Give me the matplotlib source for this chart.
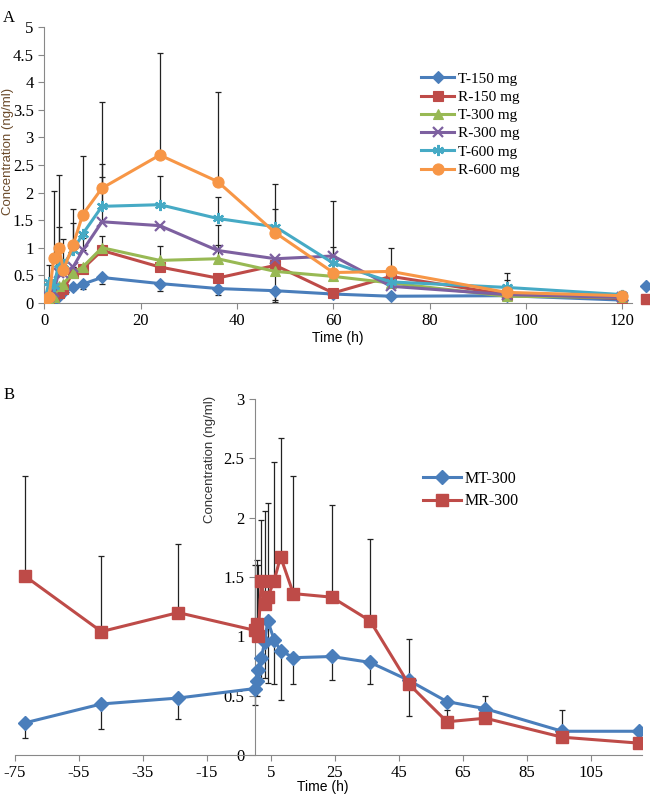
import numpy as np
import matplotlib.pyplot as plt

plt.rcParams['font.family'] = ['Liberation Serif', 'DejaVu Serif']
plt.rcParams['axes.unicode_minus'] = False

# ---- panel A data (single dose) ----
t_a = [0, 1, 2, 3, 4, 6, 8, 12, 24, 36, 48, 60, 72, 96, 120]
t150 = [0, 0.02, 0.05, 0.12, 0.2, 0.28, 0.34, 0.46, 0.35, 0.26, 0.22, 0.16, 0.12, 0.13, 0.05]
r150 = [0, 0.05, 0.12, 0.18, 0.25, 0.55, 0.62, 0.95, 0.65, 0.45, 0.68, 0.18, 0.48, 0.15, 0.08]
t300 = [0, 0.05, 0.1, 0.3, 0.35, 0.55, 0.65, 1.0, 0.77, 0.8, 0.57, 0.48, 0.36, 0.12, 0.1]
r300 = [0, 0.1, 0.2, 0.55, 0.55, 0.65, 0.95, 1.47, 1.4, 0.95, 0.8, 0.85, 0.3, 0.15, 0.1]
t600 = [0, 0.38, 0.3, 0.7, 0.7, 0.95, 1.25, 1.75, 1.78, 1.53, 1.38, 0.72, 0.38, 0.28, 0.15]
r600 = [0, 0.1, 0.82, 1.0, 0.6, 1.05, 1.6, 2.08, 2.68, 2.2, 1.27, 0.55, 0.57, 0.19, 0.13]

# error bars (lower, upper)
t150_lo = [0, 0, 0, 0, 0, 0.05, 0.08, 0.11, 0.13, 0.11, 0.2, 0, 0, 0, 0]
r150_lo = [0, 0, 0, 0, 0, 0, 0, 0, 0, 0, 0.63, 0, 0, 0, 0]
t300_hi = [0, 0, 0, 0, 0, 0, 0, 0.22, 0.26, 0.25, 0, 0, 0, 0, 0]
r300_hi = [0, 0, 0, 0.82, 0, 0, 0.22, 0.81, 0, 0.47, 0, 0, 0, 0, 0]
t600_hi = [0, 0.3, 0, 0, 0.45, 0.5, 0, 0.77, 0.52, 0.39, 0.32, 0.29, 0, 0.14, 0]
r600_hi = [0, 0, 1.2, 1.31, 0, 0.65, 1.06, 1.57, 1.85, 1.62, 0.88, 1.29, 0.43, 0.35, 0.08]
zeros_a = [0] * len(t_a)

# stray points at right edge of panel A
extra_t = [125, 125]
extra_y = [0.31, 0.07]

# ---- panel B data (multiple dose) ----
t_b = [-72, -48, -24, 0, 0.5, 1, 2, 3, 4, 6, 8, 12, 24, 36, 48, 60, 72, 96, 120]
mt300 = [0.27, 0.43, 0.48, 0.56, 0.62, 0.72, 0.82, 0.95, 1.13, 0.97, 0.88, 0.82, 0.83, 0.78, 0.63, 0.45, 0.39, 0.2, 0.2]
mr300 = [1.51, 1.04, 1.2, 1.05, 1.1, 1.0, 1.47, 1.27, 1.33, 1.47, 1.67, 1.36, 1.33, 1.13, 0.6, 0.28, 0.31, 0.15, 0.1]
mt_lo = [0.13, 0.21, 0.18, 0.14, 0.12, 0.1, 0.2, 0.3, 0.52, 0.37, 0.42, 0.22, 0.2, 0.18, 0.3, 0, 0, 0, 0]
mt_hi = [0, 0, 0, 0, 0, 0, 0, 0, 0, 0, 0, 0, 0, 0, 0, 0, 0.11, 0.18, 0]
mr_hi = [0.84, 0.64, 0.58, 0.55, 0.54, 0.6, 0.51, 0.79, 0.79, 1.0, 1.0, 0.99, 0.78, 0.69, 0.38, 0.1, 0, 0, 0]

blue = '#4a7ebb'
red = '#be4b48'
green = '#98b954'
purple = '#7d60a0'
cyan = '#46aac5'
orange = '#f79646'

sans = 'Liberation Sans'
tick_size = 12


def style_axes(a):
    for s in ['top', 'right']:
        a.spines[s].set_visible(False)
    for s in ['left', 'bottom']:
        a.spines[s].set_color('#888888')
    a.tick_params(colors='#888888', labelcolor='black', length=4,
                  direction='out', labelsize=tick_size)


fig = plt.figure(figsize=(6.5, 7.97), dpi=100)

# ================= Panel A =================
ax = fig.add_axes([0.068, 0.620, 0.904, 0.346])
series = [
    ('T-150 mg', t150, t150_lo, zeros_a, blue, 'D', 6),
    ('R-150 mg', r150, r150_lo, zeros_a, red, 's', 7),
    ('T-300 mg', t300, zeros_a, t300_hi, green, '^', 7),
    ('R-300 mg', r300, zeros_a, r300_hi, purple, 'x', 7),
    ('T-600 mg', t600, zeros_a, t600_hi, cyan, (6, 2, 0), 8),
    ('R-600 mg', r600, zeros_a, r600_hi, orange, 'o', 8),
]
for name, y, lo, hi, c, m, ms in series:
    ax.errorbar(t_a, y, yerr=[lo, hi], fmt='none', ecolor='#222222',
                elinewidth=0.9, capsize=2.5, capthick=0.9, zorder=1)
for name, y, lo, hi, c, m, ms in series:
    ax.plot(t_a, y, color=c, marker=m, markersize=ms, linewidth=2.2,
            markeredgewidth=1.6 if m in ('x', (6, 2, 0)) else 0.8,
            markeredgecolor=c, label=name, zorder=3)
ax.plot(extra_t[:1], extra_y[:1], 'D', color=blue, markersize=6, clip_on=False)
ax.plot(extra_t[1:], extra_y[1:], 's', color=red, markersize=7, clip_on=False)

ax.set_xlim(0, 122)
ax.set_ylim(0, 5)
ax.set_xticks(range(0, 121, 20))
ax.set_yticks(np.arange(0, 5.01, 0.5))
ax.set_yticklabels(['0', '0.5', '1', '1.5', '2', '2.5', '3', '3.5', '4', '4.5', '5'])
style_axes(ax)
ax.set_xlabel('Time (h)', fontfamily=sans, fontsize=10, labelpad=1)
fig.text(0.013, 0.81, 'Concentration (ng/ml)', fontfamily=sans, fontsize=9.5,
         rotation=90, ha='center', va='center', color='#6b4a2a')
ax.legend(loc='upper left', bbox_to_anchor=(0.628, 0.865), frameon=False,
          prop={'size': 11}, handlelength=2.2,
          labelspacing=0.3, handletextpad=0.2, borderpad=0)
fig.text(0.005, 0.988, 'A', fontsize=12, va='top')

# ================= Panel B =================
bx = fig.add_axes([0.023, 0.0527, 0.965, 0.4467])
bx.errorbar(t_b, mr300, yerr=[[0] * len(t_b), mr_hi], fmt='none', ecolor='#222222',
            elinewidth=0.9, capsize=2.5, capthick=0.9, zorder=1)
bx.errorbar(t_b, mt300, yerr=[mt_lo, mt_hi], fmt='none', ecolor='#222222',
            elinewidth=0.9, capsize=2.5, capthick=0.9, zorder=1)
bx.plot(t_b, mt300, color=blue, marker='D', markersize=7, linewidth=2.2,
        label='MT-300', zorder=3)
bx.plot(t_b, mr300, color=red, marker='s', markersize=9, linewidth=2.2,
        label='MR-300', zorder=3)

bx.set_xlim(-75, 121)
bx.set_ylim(0, 3)
bx.set_xticks(range(-75, 106, 20))
bx.set_yticks(np.arange(0, 3.01, 0.5))
bx.set_yticklabels(['0', '0.5', '1', '1.5', '2', '2.5', '3'])
bx.spines['left'].set_position(('data', 0))
style_axes(bx)
fig.text(0.497, 0.004, 'Time (h)', fontfamily=sans, fontsize=10, ha='center', va='bottom')
fig.text(0.323, 0.423, 'Concentration (ng/ml)', fontfamily=sans, fontsize=9.5,
         rotation=90, ha='center', va='center', color='#333333')
bx.legend(loc='upper left', bbox_to_anchor=(0.638, 0.82), frameon=False,
          prop={'size': 11.5}, handlelength=2.4,
          labelspacing=0.4, handletextpad=0.2, borderpad=0)
fig.text(0.005, 0.515, 'B', fontsize=12, va='top')

fig.savefig('out.png', dpi=100)
